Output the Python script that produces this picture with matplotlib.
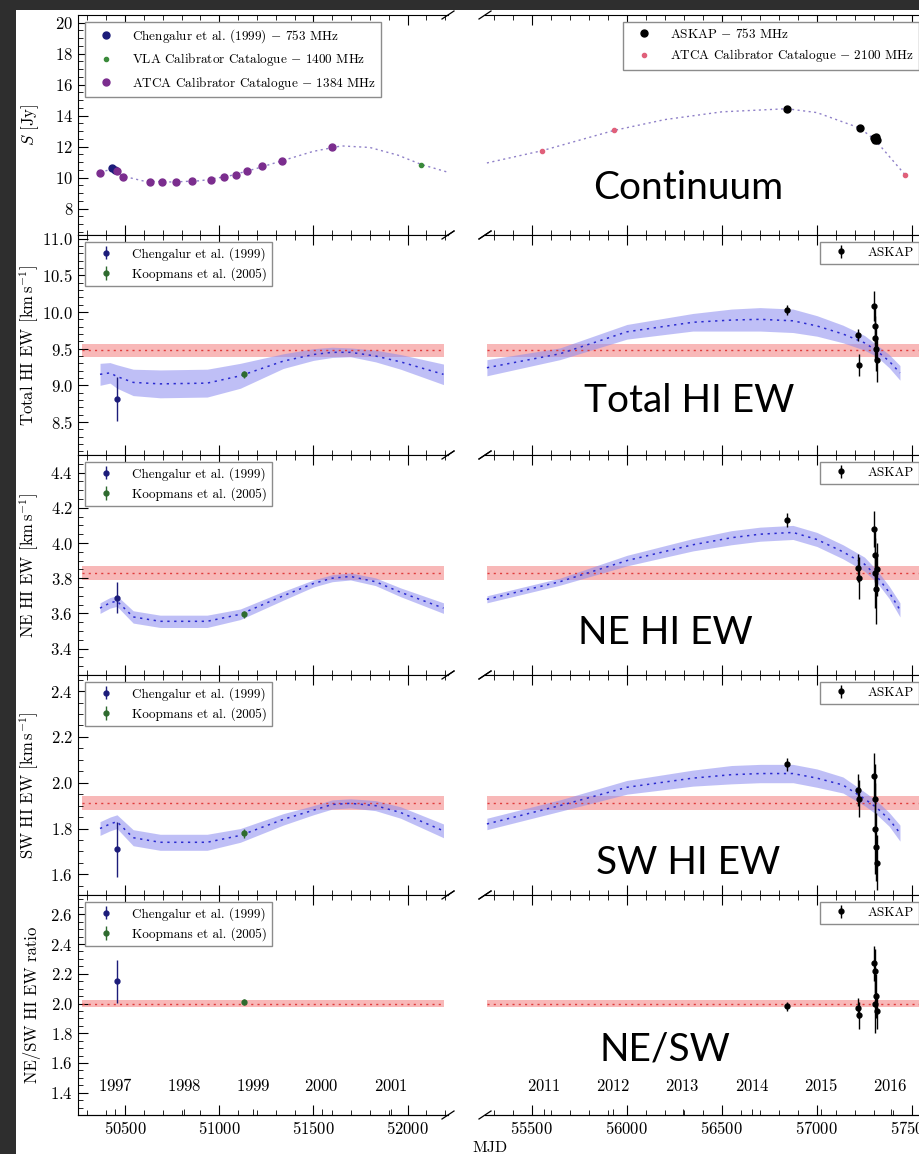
import numpy as np
import matplotlib
matplotlib.use("Agg")
import matplotlib.pyplot as plt
from matplotlib.patches import Rectangle
from matplotlib.ticker import MultipleLocator, AutoMinorLocator

# ---- continuum (S, Jy) ----
chen_cont_mjd = [50431, 50447]
chen_cont_s = [10.65, 10.5]
vla_cont_mjd = [52074]
vla_cont_s = [10.85]
atca1384_mjd = [50367, 50457, 50489, 50633, 50697, 50771, 50856, 50957,
                51027, 51090, 51149, 51229, 51335, 51601]
atca1384_s = [10.3, 10.45, 10.05, 9.75, 9.75, 9.72, 9.8, 9.82,
              10.05, 10.15, 10.4, 10.75, 11.1, 12.0]
askap_cont_mjd = [56842, 57226, 57300, 57305, 57310, 57316]
askap_cont_s = [14.45, 13.2, 12.55, 12.4, 12.6, 12.45]
atca2100_mjd = [55553, 55932, 57463]
atca2100_s = [11.74, 13.1, 10.2]

cont_model_l_mjd = [50367, 50431, 50489, 50600, 50750, 50900, 51050, 51200,
                    51350, 51500, 51650, 51800, 51950, 52074, 52215]
cont_model_l_s = [10.35, 10.55, 10.1, 9.78, 9.72, 9.8, 10.1, 10.6,
                  11.15, 11.7, 12.05, 11.95, 11.45, 10.85, 10.35]
cont_model_r_mjd = [55263, 55553, 55932, 56200, 56500, 56842, 57000, 57226, 57305, 57463]
cont_model_r_s = [10.95, 11.74, 13.05, 13.75, 14.25, 14.45, 14.2, 13.2, 12.45, 10.2]

# ---- HI equivalent widths: fitted model (centre, half width) ----
band_l_mjd = [50367, 50420, 50457, 50543, 50686, 50936, 51112, 51340, 51500,
              51600, 51697, 51830, 51963, 52191]
band_r_mjd = [55263, 55647, 56000, 56347, 56550, 56700, 56874, 57000, 57137,
              57250, 57316, 57380, 57437]

total_l = [9.15, 9.17, 9.12, 9.04, 9.02, 9.03, 9.13, 9.33, 9.42, 9.45, 9.45, 9.40, 9.32, 9.15]
total_l_hw = [0.15, 0.14, 0.16, 0.18, 0.19, 0.19, 0.17, 0.10, 0.08, 0.07, 0.06, 0.08, 0.10, 0.14]
total_r = [9.24, 9.43, 9.73, 9.86, 9.89, 9.90, 9.88, 9.81, 9.70, 9.58, 9.47, 9.33, 9.17]
total_r_hw = [0.11, 0.08, 0.10, 0.12, 0.15, 0.16, 0.16, 0.14, 0.12, 0.10, 0.08, 0.09, 0.10]

ne_l = [3.63, 3.66, 3.67, 3.58, 3.555, 3.555, 3.595, 3.70, 3.77, 3.80, 3.81, 3.78, 3.72, 3.63]
ne_l_hw = [0.03, 0.03, 0.03, 0.035, 0.035, 0.035, 0.03, 0.025, 0.02, 0.02, 0.02, 0.022, 0.025, 0.03]
ne_r = [3.68, 3.78, 3.90, 3.99, 4.03, 4.05, 4.06, 4.02, 3.95, 3.88, 3.81, 3.72, 3.62]
ne_r_hw = [0.02, 0.02, 0.03, 0.035, 0.04, 0.04, 0.04, 0.04, 0.04, 0.04, 0.035, 0.035, 0.04]

sw_l = [1.80, 1.82, 1.83, 1.76, 1.74, 1.74, 1.77, 1.84, 1.88, 1.905, 1.91, 1.90, 1.87, 1.79]
sw_l_hw = [0.03, 0.03, 0.03, 0.035, 0.035, 0.035, 0.03, 0.025, 0.02, 0.02, 0.02, 0.022, 0.025, 0.03]
sw_r = [1.82, 1.90, 1.98, 2.02, 2.035, 2.04, 2.04, 2.02, 1.99, 1.93, 1.89, 1.84, 1.78]
sw_r_hw = [0.025, 0.025, 0.03, 0.035, 0.04, 0.04, 0.04, 0.04, 0.035, 0.03, 0.03, 0.03, 0.035]

# constant model (red band)
red_l_mjd = [50270, 52195]
red_r_mjd = [55263, 57620]
red_total = (9.48, 0.09)
red_ne = (3.83, 0.04)
red_sw = (1.91, 0.03)
red_ratio = (2.0, 0.022)

chen_mjd = [50457]
chen_total, chen_total_err = [8.81], [0.30]
chen_ne, chen_ne_err = [3.69], [0.09]
chen_sw, chen_sw_err = [1.71], [0.12]
chen_ratio, chen_ratio_err = [2.15], [0.145]

koop_mjd = [51133]
koop_total, koop_total_err = [9.15], [0.05]
koop_ne, koop_ne_err = [3.595], [0.02]
koop_sw, koop_sw_err = [1.78], [0.02]
koop_ratio, koop_ratio_err = [2.01], [0.02]

askap_mjd = [56842, 57214, 57220, 57300, 57304, 57308, 57312, 57316]
askap_total = [10.03, 9.69, 9.28, 10.08, 9.81, 9.65, 9.49, 9.35]
askap_total_err = [0.07, 0.08, 0.15, 0.20, 0.25, 0.30, 0.30, 0.30]
askap_ne = [4.13, 3.86, 3.80, 4.08, 3.93, 3.83, 3.74, 3.85]
askap_ne_err = [0.04, 0.08, 0.12, 0.10, 0.15, 0.20, 0.20, 0.15]
askap_sw = [2.08, 1.97, 1.93, 2.03, 1.93, 1.80, 1.72, 1.65]
askap_sw_err = [0.03, 0.07, 0.08, 0.10, 0.15, 0.20, 0.15, 0.12]
askap_ratio = [1.98, 1.97, 1.92, 2.27, 2.22, 2.00, 2.05, 1.95]
askap_ratio_err = [0.03, 0.07, 0.09, 0.12, 0.15, 0.20, 0.15, 0.12]

years_l = [1997, 1998, 1999, 2000, 2001]
years_r = [2011, 2012, 2013, 2014, 2015, 2016]

C_CHEN = "#1c1c7a"
C_KOOP = "#2e6b2e"
C_VLA = "#3a8a3a"
C_ATCA1 = "#7b2d8e"
C_ATCA2 = "#e0607a"
C_BAND = "#8c8cf0"
C_BLINE = "#2a2ad0"
C_RED = "#f48a8a"
C_RLINE = "#e03c3c"

plt.rcParams['font.family'] = ['cmr10', 'DejaVu Serif']
plt.rcParams['mathtext.fontset'] = 'cm'
plt.rcParams['axes.formatter.use_mathtext'] = True

W, H = 920, 1154
fig = plt.figure(figsize=(W / 100, H / 100), dpi=100, facecolor="#2e2e2e")
fig.add_artist(Rectangle((16 / W, 0), 1, (H - 10) / H, transform=fig.transFigure,
                         facecolor="white", edgecolor="none", zorder=-1))


def box(x0, x1, y0, y1):
    return [x0 / W, 1 - y1 / H, (x1 - x0) / W, (y1 - y0) / H]


def mjd2yr(m):
    return 2000.0 + (np.asarray(m, dtype=float) - 51544.5) / 365.25


def yr2mjd(y):
    return 51544.5 + (np.asarray(y, dtype=float) - 2000.0) * 365.25


ylims = [(6.3, 20.5), (8.05, 11.05), (3.25, 4.5), (1.51, 2.47), (1.25, 2.73)]
ymaj = [2, 0.5, 0.2, 0.2, 0.2]
ymin = [4, 5, 4, 4, 4]
ylabels = ["$S$ [Jy]", "Total HI EW [km$\\,$s$^{-1}$]", "NE HI EW [km$\\,$s$^{-1}$]",
           "SW HI EW [km$\\,$s$^{-1}$]", "NE/SW HI EW ratio"]
overlay = [("Continuum", 688, 188), ("Total HI EW", 689, 401), ("NE HI EW", 665, 633),
           ("SW HI EW", 688, 863), ("NE/SW", 665, 1049)]

rows = []
for i in range(5):
    top = 15 + 220 * i
    axl = fig.add_axes(box(78, 448, top, top + 220))
    axr = fig.add_axes(box(485, 926, top, top + 220))
    axl.set_xlim(50250, 52215)
    axr.set_xlim(55253, 57574)
    for ax in (axl, axr):
        ax.set_ylim(*ylims[i])
        ax.yaxis.set_major_locator(MultipleLocator(ymaj[i]))
        ax.yaxis.set_minor_locator(AutoMinorLocator(ymin[i]))
        ax.xaxis.set_major_locator(MultipleLocator(500))
        ax.xaxis.set_minor_locator(MultipleLocator(100))
        ax.tick_params(which='both', direction='in', top=True, bottom=True,
                       labelsize=12, labelbottom=(i == 4))
        ax.tick_params(which='major', length=7, width=0.8)
        ax.tick_params(which='minor', length=3.5, width=0.6)
        for s in ax.spines.values():
            s.set_linewidth(0.8)
    axl.spines['right'].set_visible(False)
    axr.spines['left'].set_visible(False)
    axl.tick_params(which='both', right=False)
    axr.tick_params(which='both', left=False, right=False, labelleft=False)
    axl.set_ylabel(ylabels[i], fontsize=12)
    axl.yaxis.set_label_coords(-0.1, 0.5)

    # broken axis marks
    kw = dict(color='k', clip_on=False, lw=0.9)
    dxl, dxr, dy = 6 / 370, 6 / 441, 4 / 220
    for yy in (0, 1):
        axl.plot((1 - dxl, 1 + dxl), (yy - dy, yy + dy), transform=axl.transAxes, **kw)
        axr.plot((-dxr, dxr), (yy - dy, yy + dy), transform=axr.transAxes, **kw)

    txt, tx, ty = overlay[i]
    fig.text(tx / W, 1 - ty / H, txt, ha='center', va='center', family='Lato',
             fontsize=28, color='black', zorder=10)
    rows.append((axl, axr))

leg_kw = dict(fontsize=9.5, fancybox=False, edgecolor='0.55', framealpha=1,
              handlelength=2.4, borderaxespad=0.5)

# continuum panel
axl, axr = rows[0]
axl.plot(cont_model_l_mjd, cont_model_l_s, ls=(0, (1.5, 2.5)), color="#8f80c8", lw=1)
axr.plot(cont_model_r_mjd, cont_model_r_s, ls=(0, (1.5, 2.5)), color="#8f80c8", lw=1)
axl.plot(chen_cont_mjd, chen_cont_s, 'o', ms=5, color=C_CHEN,
         label="Chengalur et al. (1999) $-$ 753 MHz")
axl.plot(vla_cont_mjd, vla_cont_s, 'o', ms=3, color=C_VLA,
         label="VLA Calibrator Catalogue $-$ 1400 MHz")
axl.plot(atca1384_mjd, atca1384_s, 'o', ms=5, color=C_ATCA1,
         label="ATCA Calibrator Catalogue $-$ 1384 MHz")
axr.plot(askap_cont_mjd, askap_cont_s, 'o', ms=5, color='black',
         label="ASKAP $-$ 753 MHz")
axr.plot(atca2100_mjd, atca2100_s, 'o', ms=3, color=C_ATCA2,
         label="ATCA Calibrator Catalogue $-$ 2100 MHz")
axl.legend(loc='upper left', **leg_kw)
axr.legend(loc='upper right', **leg_kw)

# EW panels
panels = [
    (total_l, total_l_hw, total_r, total_r_hw, red_total,
     chen_total, chen_total_err, koop_total, koop_total_err, askap_total, askap_total_err),
    (ne_l, ne_l_hw, ne_r, ne_r_hw, red_ne,
     chen_ne, chen_ne_err, koop_ne, koop_ne_err, askap_ne, askap_ne_err),
    (sw_l, sw_l_hw, sw_r, sw_r_hw, red_sw,
     chen_sw, chen_sw_err, koop_sw, koop_sw_err, askap_sw, askap_sw_err),
    (None, None, None, None, red_ratio,
     chen_ratio, chen_ratio_err, koop_ratio, koop_ratio_err, askap_ratio, askap_ratio_err),
]

for k, p in enumerate(panels):
    axl, axr = rows[k + 1]
    cl, hl, cr, hr, red, cv, ce, kv, ke, av, ae = p
    for ax, rm in ((axl, red_l_mjd), (axr, red_r_mjd)):
        ax.fill_between(rm, red[0] - red[1], red[0] + red[1], color=C_RED, alpha=0.6, lw=0)
        ax.plot(rm, [red[0], red[0]], ls=(0, (1.5, 3)), color=C_RLINE, lw=1)
    if cl is not None:
        for ax, m, c, h in ((axl, band_l_mjd, cl, hl), (axr, band_r_mjd, cr, hr)):
            c = np.array(c)
            h = np.array(h)
            ax.fill_between(m, c - h, c + h, color=C_BAND, alpha=0.55, lw=0)
            ax.plot(m, c, ls=(0, (1.5, 3)), color=C_BLINE, lw=1.1)
    axl.errorbar(chen_mjd, cv, yerr=ce, fmt='o', ms=3.5, color=C_CHEN, elinewidth=1,
                 capsize=0, label="Chengalur et al. (1999)")
    axl.errorbar(koop_mjd, kv, yerr=ke, fmt='o', ms=3.5, color=C_KOOP, elinewidth=1,
                 capsize=0, label="Koopmans et al. (2005)")
    axr.errorbar(askap_mjd, av, yerr=ae, fmt='o', ms=3.5, color='black', elinewidth=1,
                 capsize=0, label="ASKAP")
    axl.legend(loc='upper left', **leg_kw)
    axr.legend(loc='upper right', **leg_kw)

# years on bottom row
for ax, yrs in ((rows[4][0], years_l), (rows[4][1], years_r)):
    sec = ax.secondary_xaxis(0.0, functions=(mjd2yr, yr2mjd))
    sec.set_alignment('top')
    sec.set_xticks(yrs)
    sec.tick_params(direction='out', length=4, width=0.6, pad=11, labelsize=12)

fig.text(490 / W, 1 - 1148 / H, "MJD", ha='center', va='center', fontsize=11.5)

fig.savefig("out.png", dpi=100, facecolor=fig.get_facecolor())
